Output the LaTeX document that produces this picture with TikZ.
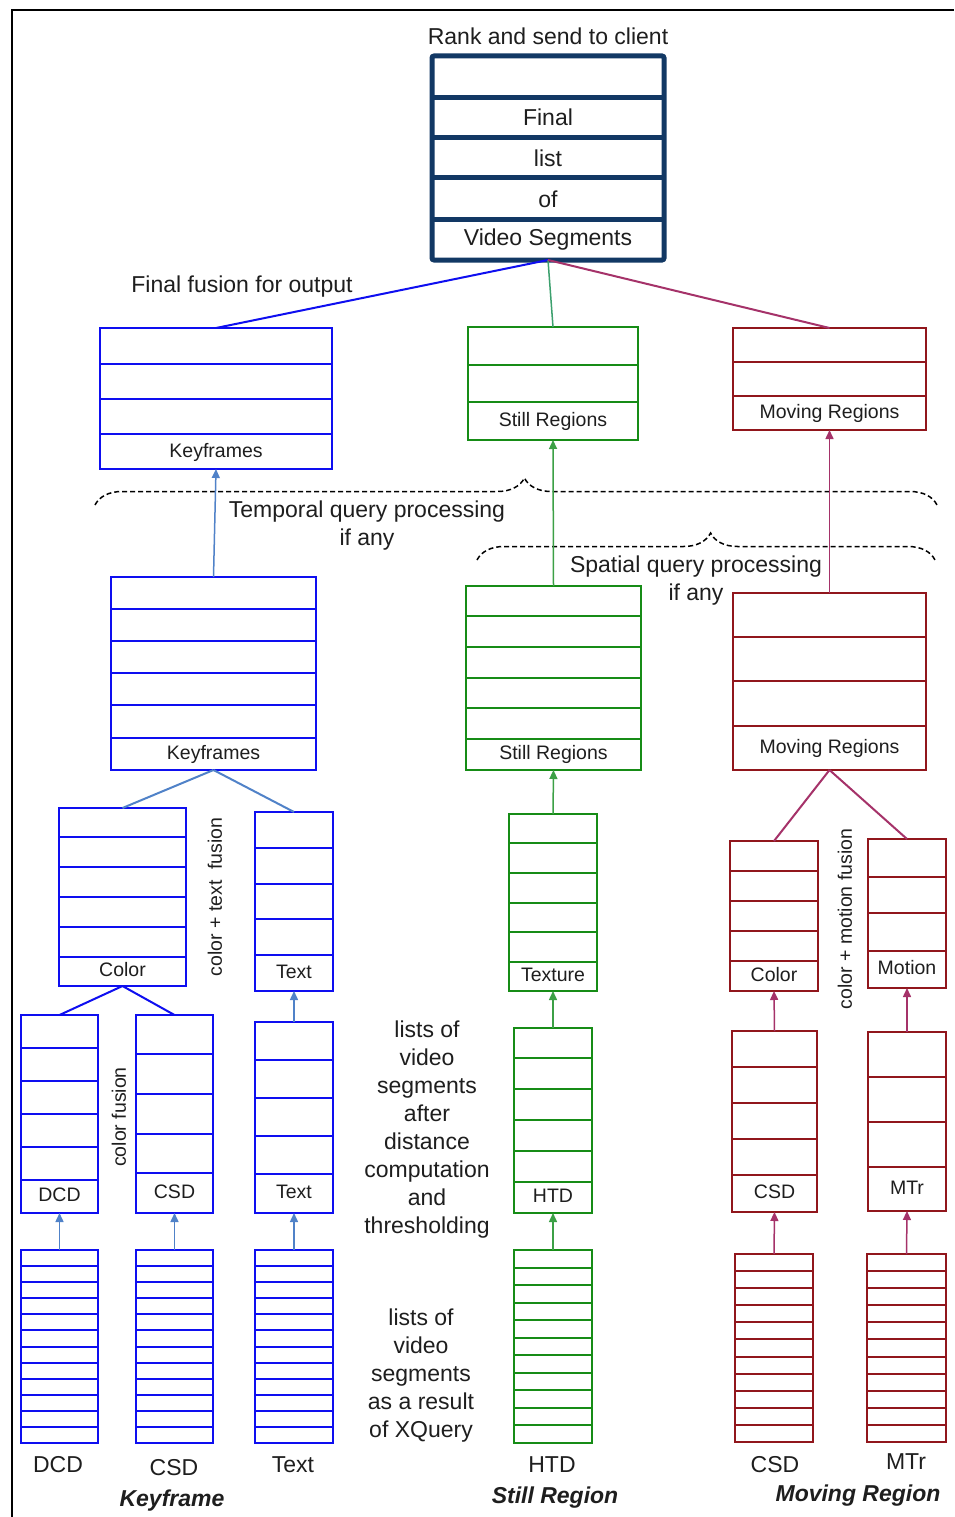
\documentclass[tikz,border=0pt]{standalone}
\usepackage{fontspec}
\setmainfont{Liberation Sans}
\usetikzlibrary{arrows.meta,decorations.pathreplacing}

\definecolor{navy}{RGB}{18,56,100}
\definecolor{kfblue}{RGB}{14,14,240}
\definecolor{linkblue}{RGB}{80,130,200}
\definecolor{srgreen}{RGB}{22,140,22}
\definecolor{srlink}{RGB}{60,160,70}
\definecolor{topgreen}{RGB}{60,160,110}
\definecolor{mrred}{RGB}{145,22,28}
\definecolor{mrlink}{RGB}{165,50,105}
\definecolor{ink}{RGB}{30,30,30}

\tikzset{
  listbox/.style={draw=#1, rectangle, line width=2.5pt, inner sep=0pt, outer sep=0pt},
  divider/.style={draw=#1, line width=2pt},
  boxlabel/.style={font=\fontsize{19.5}{23}\selectfont, text=ink, inner sep=0pt,
                   text height=0.72em, text depth=0pt, yshift=-2pt},
  biglabel/.style={font=\fontsize{23}{28}\selectfont, text=ink, inner sep=0pt, align=center},
  sidelabel/.style={font=\fontsize{19.5}{23}\selectfont, text=ink, inner sep=0pt, rotate=90},
  titlelabel/.style={font=\fontsize{23}{28}\selectfont\bfseries\itshape, text=ink, inner sep=0pt},
  fuse/.style={draw=#1, line width=2pt},
  up/.style={draw=#1, line width=1.5pt, -{Triangle[length=9pt,width=8pt]}},
  qbrace/.style={draw=black, line width=1.5pt, dash pattern=on 5pt off 3pt,
                 decorate, decoration={brace, amplitude=27pt, aspect=0.51}}
}

% list of ranked segments: name, colour, x1, y1, x2, y2, divider ys, label, label y
\newcommand\seglist[9]{%
  \node[listbox=#2, minimum width={#5-#3}, minimum height={#6-#4}, anchor=north west] (#1) at (#3,#4) {};
  \foreach \yy in {#7} \draw[divider=#2] (#3,\yy) -- (#5,\yy);
  \node[boxlabel] (#1-lbl) at ({(#3+#5)/2},#9) {#8};
}
% evenly striped list: name, colour, x1, y1, x2, y2, number of rows
\newcommand\stripes[7]{%
  \node[listbox=#2, minimum width={#5-#3}, minimum height={#6-#4}, anchor=north west] (#1) at (#3,#4) {};
  \pgfmathtruncatemacro\lastrow{#7-1}
  \foreach \i in {1,...,\lastrow}
    \draw[divider=#2] (#3,{#4+\i*(#6-#4)/#7}) -- (#5,{#4+\i*(#6-#4)/#7});
}

\begin{document}
\begin{tikzpicture}[x=1pt,y=-1pt]
\useasboundingbox (0,0) rectangle (954,1517);
\fill[white] (0,0) rectangle (954,1517);

% frame
\draw[line width=2pt] (12,1517) -- (12,10) -- (954,10);

% final output list
\node[biglabel] (rank) at (548,36) {Rank and send to client};
\node[listbox=navy, line width=5pt, rounded corners=2pt, minimum width=232, minimum height=204,
      anchor=north west] (final) at (432,56) {};
\foreach \yy in {98,138,178,219} \draw[draw=navy, line width=5pt] (432,\yy) -- (664,\yy);
\node[biglabel] (final-1) at (548,117) {Final};
\node[biglabel] (final-2) at (548,158) {list};
\node[biglabel] (final-3) at (548,199) {of};
\node[biglabel] (final-4) at (548,240) {Video Segments};
\node[biglabel] (fusionlbl) at (242,287) {Final fusion for output};

% fused lists per media type
\seglist{kfA}{kfblue}{100}{328}{332}{469}{364,399,434}{Keyframes}{452}
\seglist{srA}{srgreen}{468}{327}{638}{440}{365,402}{Still Regions}{421}
\seglist{mrA}{mrred}{733}{328}{926}{430}{362,396}{Moving Regions}{413}

\draw[fuse=kfblue] (final.south) -- (kfA.north);
\draw[fuse=topgreen, line width=1.5pt] (final.south) -- (srA.north);
\draw[fuse=mrlink] (final.south) -- (mrA.north);

% query processing braces
\draw[qbrace] (95,505) -- (937,505);
\node[biglabel] (temporal) at (367,526) {Temporal query processing\\if any};
\draw[qbrace] (477,560) -- (935,560);
\node[biglabel] (spatial) at (696,581) {Spatial query processing\\if any};

% per-type lists
\seglist{kfB}{kfblue}{111}{577}{316}{770}{609,641,673,705,738}{Keyframes}{754}
\seglist{srB}{srgreen}{466}{586}{641}{770}{616,647,678,708,739}{Still Regions}{754}
\seglist{mrB}{mrred}{733}{593}{926}{770}{637,681,726}{Moving Regions}{748}

\draw[up=linkblue] (kfB.north) -- (kfA.south);
\draw[up=srlink] (srB.north) -- (srA.south);
\draw[up=mrlink] (mrB.north) -- (mrA.south);

% feature fusion level
\seglist{kfColor}{kfblue}{59}{808}{186}{986}{837,867,897,927,957}{Color}{971}
\seglist{kfText}{kfblue}{255}{812}{333}{991}{848,884,919,955}{Text}{973}
\seglist{srTex}{srgreen}{509}{814}{597}{991}{843,873,903,932,962}{Texture}{976}
\seglist{mrColor}{mrred}{730}{841}{818}{991}{871,901,931,961}{Color}{976}
\seglist{mrMotion}{mrred}{868}{839}{946}{988}{877,913,951}{Motion}{969}

\draw[fuse=linkblue] (kfB.south) -- (kfColor.north);
\draw[fuse=linkblue] (kfB.south) -- (kfText.north);
\draw[up=srlink] (srTex.north) -- (srB.south);
\draw[fuse=mrlink] (mrB.south) -- (mrColor.north);
\draw[fuse=mrlink] (mrB.south) -- (mrMotion.north);

\node[sidelabel] (ctfusion) at (215,897) {color + text~~fusion};
\node[sidelabel] (cmfusion) at (845,919) {color + motion fusion};

% thresholded lists per descriptor
\seglist{kfDCD}{kfblue}{21}{1015}{98}{1213}{1048,1081,1114,1147,1180}{DCD}{1196}
\seglist{kfCSD}{kfblue}{136}{1015}{213}{1213}{1054,1094,1134,1173}{CSD}{1193}
\seglist{kfTxt}{kfblue}{255}{1022}{333}{1213}{1060,1098,1136,1174}{Text}{1193}
\seglist{srHTD}{srgreen}{514}{1028}{592}{1213}{1058,1089,1120,1151,1182}{HTD}{1197}
\seglist{mrCSD}{mrred}{732}{1031}{817}{1212}{1067,1103,1139,1175}{CSD}{1193}
\seglist{mrMTr}{mrred}{868}{1032}{946}{1211}{1077,1122,1167}{MTr}{1189}

\draw[fuse=kfblue] (kfColor.south) -- (kfDCD.north);
\draw[fuse=kfblue] (kfColor.south) -- (kfCSD.north);
\draw[up=linkblue] (kfTxt.north) -- (kfText.south);
\draw[up=srlink] (srHTD.north) -- (srTex.south);
\draw[up=mrlink] (mrCSD.north) -- (mrColor.south);
\draw[up=mrlink] (mrMTr.north) -- (mrMotion.south);

\node[sidelabel] (cfusion) at (119,1117) {color fusion};
\node[biglabel] (aftertxt) at (427,1130)
  {lists of\\video\\segments\\after\\distance\\computation\\and\\thresholding};

% raw XQuery result lists
\stripes{qDCD}{kfblue}{21}{1250}{98}{1443}{12}
\stripes{qCSD}{kfblue}{136}{1250}{213}{1443}{12}
\stripes{qTxt}{kfblue}{255}{1250}{333}{1443}{12}
\stripes{qHTD}{srgreen}{514}{1250}{592}{1443}{11}
\stripes{qmCSD}{mrred}{735}{1254}{813}{1442}{11}
\stripes{qMTr}{mrred}{867}{1254}{946}{1442}{11}

\draw[up=linkblue] (qDCD.north) -- (kfDCD.south);
\draw[up=linkblue] (qCSD.north) -- (kfCSD.south);
\draw[up=linkblue] (qTxt.north) -- (kfTxt.south);
\draw[up=srlink] (qHTD.north) -- (srHTD.south);
\draw[up=mrlink] (qmCSD.north) -- (mrCSD.south);
\draw[up=mrlink] (qMTr.north) -- (mrMTr.south);

\node[biglabel] (xqtxt) at (421,1376)
  {lists of\\video\\segments\\as a result\\of XQuery};

% descriptor names and media types
\node[biglabel] (n-dcd) at (58,1465) {DCD};
\node[biglabel] (n-csd) at (174,1468) {CSD};
\node[biglabel] (n-txt) at (293,1465) {Text};
\node[titlelabel] (t-kf) at (172,1501) {Keyframe};
\node[biglabel] (n-htd) at (552,1465) {HTD};
\node[titlelabel] (t-sr) at (555,1498) {Still Region};
\node[biglabel] (n-mcsd) at (775,1465) {CSD};
\node[biglabel] (n-mtr) at (906,1462) {MTr};
\node[titlelabel] (t-mr) at (858,1496) {Moving Region};
\end{tikzpicture}
\end{document}
